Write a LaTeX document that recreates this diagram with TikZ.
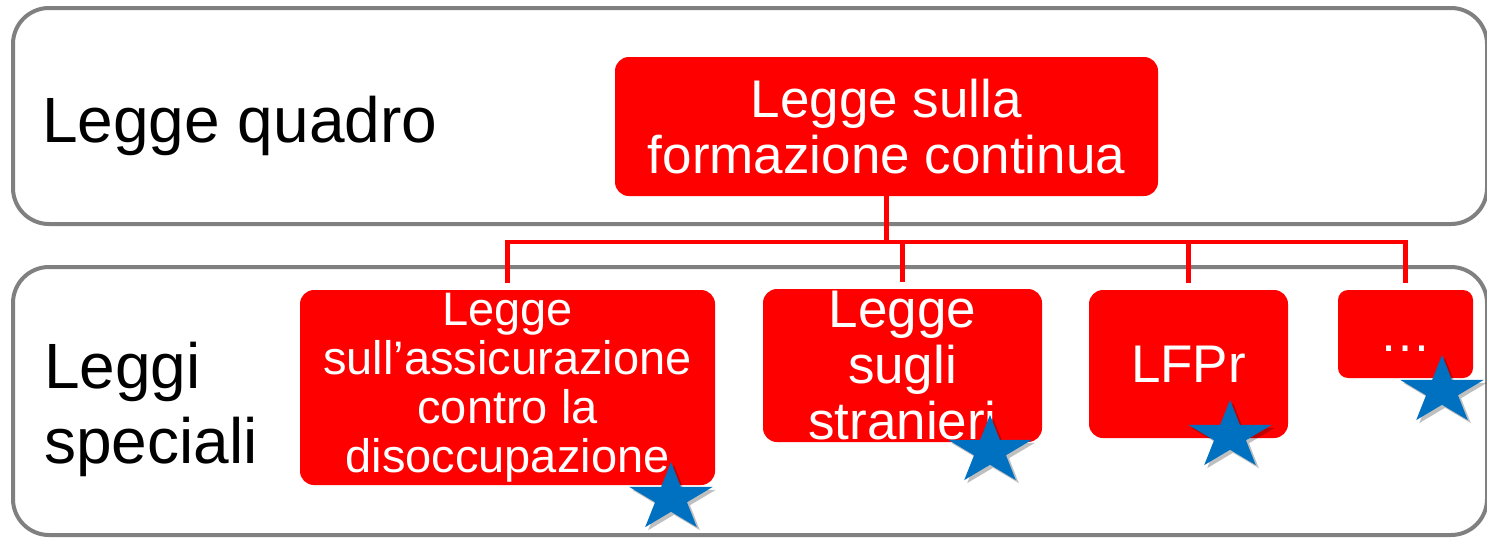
\documentclass[tikz,border=0pt]{standalone}
\usepackage{fontspec}
\setmainfont{Liberation Sans}
\definecolor{panelgray}{HTML}{808080}
\definecolor{boxred}{HTML}{FF0000}
\definecolor{starblue}{HTML}{0070C0}
\begin{document}
\begin{tikzpicture}[x=1pt,y=-1pt,
  panel/.style={draw=panelgray,line width=4pt,fill=white,rounded corners=36pt,inner sep=0pt},
  redbox/.style={fill=boxred,rounded corners=14pt,text=white,align=center,inner sep=0pt},
  conn/.style={draw=boxred,line width=4.5pt},
  drop/.style={conn,shorten >=7pt},
  sidelabel/.style={inner sep=0pt,text=black,align=left,font=\fontsize{64}{75}\selectfont},
  pics/bluestar/.style={code={
    \fill[black,opacity=0.25,xshift=3pt,yshift=-3pt,xscale=1.22]
      (270:36) -- (306:13.75) -- (342:36) -- (18:13.75) -- (54:36) -- (90:13.75)
      -- (126:36) -- (162:13.75) -- (198:36) -- (234:13.75) -- cycle;
    \fill[starblue,xscale=1.22]
      (270:36) -- (306:13.75) -- (342:36) -- (18:13.75) -- (54:36) -- (90:13.75)
      -- (126:36) -- (162:13.75) -- (198:36) -- (234:13.75) -- cycle;
  }}
]
\useasboundingbox (0,0) rectangle (1487,538);
% panels
\node[panel,minimum width=1474pt,minimum height=216pt] (toppanel) at (750,116) {};
\node[panel,minimum width=1474pt,minimum height=268pt] (botpanel) at (750,401) {};
% side labels
\node[sidelabel,anchor=base west] (lq) at (42,142) {Legge quadro};
\node[sidelabel,anchor=west] (ls) at (44,409.5) {Leggi\\speciali};
% red boxes
\node[redbox,minimum width=543pt,minimum height=139pt,font=\fontsize{53}{56}\selectfont] (lfc) at (886.5,126.5) {Legge sulla\\formazione continua};
\node[redbox,minimum width=415pt,minimum height=195pt,font=\fontsize{47}{49}\selectfont] (b1) at (507.5,387.5) {Legge\\sull’assicurazione\\contro la\\disoccupazione};
\node[redbox,minimum width=279pt,minimum height=153pt,font=\fontsize{53}{56}\selectfont] (b2) at (902.5,365.5) {Legge\\sugli\\stranieri};
\node[redbox,minimum width=199pt,minimum height=148pt,font=\fontsize{53}{56}\selectfont] (b3) at (1188.5,364) {LFPr};
\node[redbox,minimum width=135pt,minimum height=88pt,rounded corners=10pt,font=\fontsize{52}{56}\selectfont] (b4) at (1405.5,334) {\vphantom{Lg}\smash{\raisebox{-5pt}{…}}};
% connectors
\coordinate (bus) at (886.5,242);
\draw[conn] (lfc.south) -- (bus);
\draw[drop] (bus) -| (b1.north);
\draw[drop] (bus) -| (b2.north);
\draw[drop] (bus) -| (b3.north);
\draw[drop] (bus) -| (b4.north);
% stars
\pic (s1) at (671,498) {bluestar};
\pic (s2) at (990,451) {bluestar};
\pic (s3) at (1230,436) {bluestar};
\pic (s4) at (1442,391) {bluestar};
\end{tikzpicture}
\end{document}
